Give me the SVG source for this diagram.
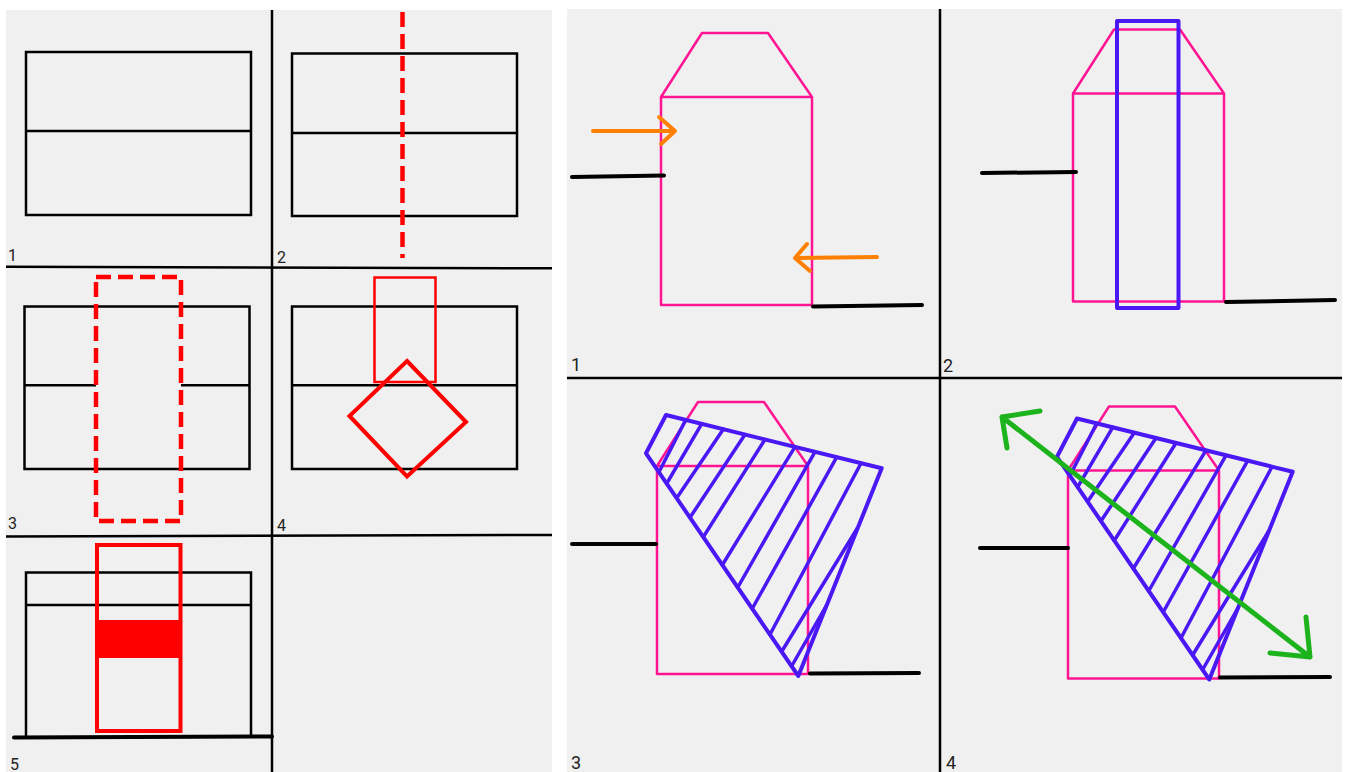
<svg xmlns="http://www.w3.org/2000/svg" xmlns:xlink="http://www.w3.org/1999/xlink" width="1349" height="772" viewBox="0 0 1349 772">
<style>
.bg{fill:#f0f0f0;stroke:none}
.div{stroke:#000;stroke-width:2.5;fill:none}
.blk{stroke:#000;stroke-width:2.5;fill:none}
.gnd{stroke:#000;stroke-width:4;stroke-linecap:round;fill:none}
.red{stroke:#ff0000;stroke-width:4;fill:none}
.redthin{stroke:#ff0000;stroke-width:2.5;fill:none}
.dash{stroke:#ff0000;stroke-width:4.5;fill:none;stroke-dasharray:15 7}
.pink{stroke:#ff1493;stroke-width:2.5;fill:none;stroke-linejoin:round}
.blue{stroke:#4a17f5;stroke-width:4;fill:none;stroke-linecap:round;stroke-linejoin:round}
.hat{stroke:#4a17f5;stroke-width:3.5;fill:none;stroke-linecap:round}
.org{stroke:#ff8000;stroke-width:4;fill:none;stroke-linecap:round;stroke-linejoin:round}
.grn{stroke:#1db31d;stroke-width:5;fill:none;stroke-linecap:round;stroke-linejoin:round}
.lbl{font-family:Roboto,"Liberation Sans",sans-serif;font-size:16px;fill:#222}
.lblr{font-family:Roboto,"Liberation Sans",sans-serif;font-size:18px;fill:#222}
</style>
<defs>
<path id="house" class="pink" d="M41 0 H107 L151 64 V272 H0 V64 Z M0 64 H151"/>
<g id="hatch">
<polygon class="blue" points="666,415 881.7,468.3 798.3,676 646,453.3"/>
<g class="hat">
<line x1="685.7" y1="419.9" x2="659" y2="472"/>
<line x1="701.7" y1="423.8" x2="666.7" y2="483.5"/>
<line x1="723.3" y1="429.2" x2="676.7" y2="498"/>
<line x1="745" y1="434.5" x2="690" y2="517.5"/>
<line x1="765" y1="439.5" x2="703.3" y2="537"/>
<line x1="795" y1="446.9" x2="722.3" y2="565"/>
<line x1="815" y1="451.8" x2="737.7" y2="587.5"/>
<line x1="836.7" y1="457.2" x2="752.3" y2="608.5"/>
<line x1="861" y1="463.2" x2="770" y2="634.5"/>
<line x1="857.5" y1="528" x2="781.7" y2="651.5"/>
<line x1="826.7" y1="605" x2="791.7" y2="666"/>
</g>
</g>
</defs>
<rect width="1349" height="772" fill="#ffffff"/>
<g id="left-panel">
<rect class="bg" x="6" y="10" width="546" height="762"/>
<g id="left-grid">
<line class="div" x1="272" y1="10" x2="272" y2="772"/>
<line class="div" x1="6" y1="266.7" x2="552" y2="268.3"/>
<line class="div" x1="6" y1="536.5" x2="552" y2="535"/>
</g>
<g id="step1">
<rect class="blk" x="26" y="52" width="225" height="163"/>
<line class="blk" x1="26" y1="131" x2="251" y2="131"/>
<text class="lbl" x="8" y="261">1</text>
</g>
<g id="step2">
<rect class="blk" x="292" y="53.5" width="225" height="162.5"/>
<line class="blk" x1="292" y1="133" x2="517" y2="133"/>
<line class="dash" x1="402.5" y1="12" x2="402.5" y2="258"/>
<text class="lbl" x="277" y="263">2</text>
</g>
<g id="step3">
<rect class="blk" x="24.5" y="306.5" width="225" height="162.5"/>
<line class="blk" x1="24.5" y1="385.3" x2="96" y2="385.3"/>
<line class="blk" x1="181" y1="385.3" x2="249.5" y2="385.3"/>
<rect class="dash" x="96" y="277" width="85" height="244"/>
<text class="lbl" x="8" y="529">3</text>
</g>
<g id="step4">
<rect class="blk" x="292" y="306.5" width="225" height="162.5"/>
<line class="blk" x1="292" y1="385.3" x2="517" y2="385.3"/>
<rect class="redthin" x="374.5" y="277.5" width="61" height="104.5"/>
<polygon class="red" points="407,361 466,422 407,476.5 349.5,416"/>
<text class="lbl" x="277" y="531">4</text>
</g>
<g id="step5">
<path class="blk" d="M26 737 V572.5 H251 V737 M26 605 H251"/>
<rect x="97" y="620" width="83.5" height="38" fill="#ff0000"/>
<rect class="red" x="97" y="545" width="83.5" height="186" stroke-width="4.5"/>
<line class="gnd" x1="14" y1="737.5" x2="272" y2="736.5"/>
<text class="lbl" x="10" y="770">5</text>
</g>
</g>
<g id="right-panel">
<rect class="bg" x="567" y="9" width="775" height="763"/>
<g id="right-grid">
<line class="div" x1="940" y1="9" x2="940" y2="772"/>
<line class="div" x1="567" y1="378" x2="1342" y2="378"/>
</g>
<g id="view1">
<use xlink:href="#house" href="#house" transform="translate(661,33)"/>
<line class="gnd" x1="572" y1="177" x2="664" y2="175.5"/>
<line class="gnd" x1="813" y1="306.5" x2="922" y2="305"/>
<path class="org" d="M593 131 H675 M659 117 L675 131 L661 144"/>
<path class="org" d="M877 257 L795 258 M807 244 L795 258 L810 271"/>
<text class="lblr" x="571" y="371">1</text>
</g>
<g id="view2">
<use xlink:href="#house" href="#house" transform="translate(1073,29.5)"/>
<rect class="blue" x="1117" y="21" width="61.5" height="287"/>
<line class="gnd" x1="982" y1="173" x2="1076" y2="172"/>
<line class="gnd" x1="1226" y1="302" x2="1335" y2="300"/>
<text class="lblr" x="943" y="372">2</text>
</g>
<g id="view3">
<use xlink:href="#house" href="#house" transform="translate(657,402)"/>
<line class="gnd" x1="572" y1="544" x2="656" y2="544"/>
<line class="gnd" x1="810" y1="673.5" x2="919" y2="673"/>
<use xlink:href="#hatch" href="#hatch"/>
<text class="lblr" x="571" y="769">3</text>
</g>
<g id="view4">
<use xlink:href="#house" href="#house" transform="translate(1068,406.5)"/>
<line class="gnd" x1="980" y1="548" x2="1068" y2="548"/>
<line class="gnd" x1="1220" y1="677.5" x2="1330" y2="677"/>
<use xlink:href="#hatch" href="#hatch" transform="translate(411,3.5)"/>
<g id="connectors">
<path class="grn" d="M1002 417 L1310 657 M1040 411 L1002 417 L1007 448 M1306 617 L1310 657 L1270 653"/>
</g>
<text class="lblr" x="946" y="769">4</text>
</g>
</g>
</svg>
